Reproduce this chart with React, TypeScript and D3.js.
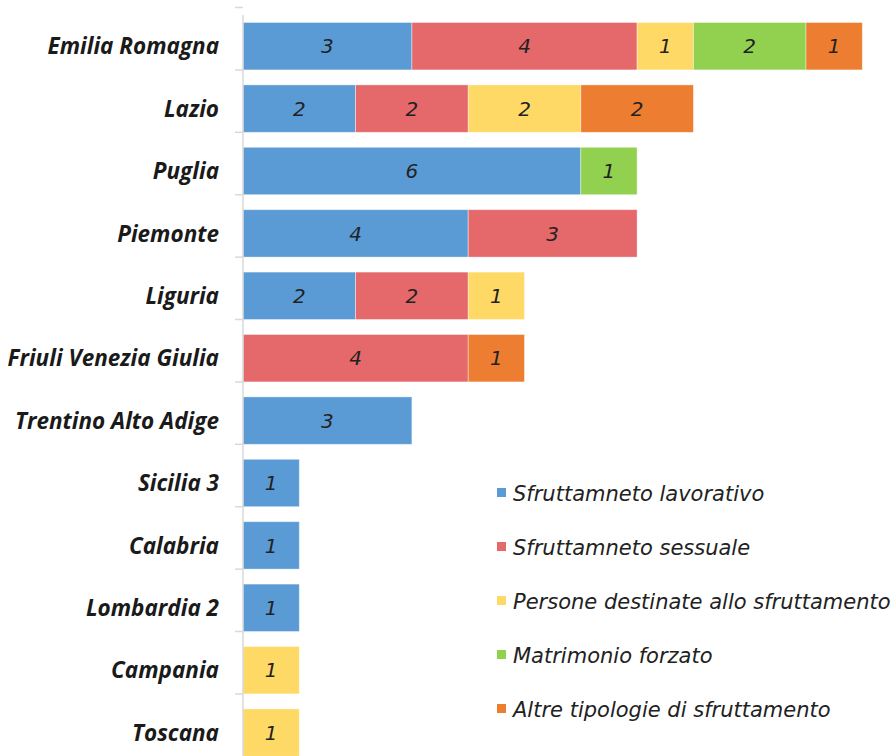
import * as d3 from 'd3';
import { useEffect, useRef } from 'react';

const regions = [
  'Emilia Romagna', 'Lazio', 'Puglia', 'Piemonte', 'Liguria', 'Friuli Venezia Giulia',
  'Trentino Alto Adige', 'Sicilia 3', 'Calabria', 'Lombardia 2', 'Campania', 'Toscana',
];
const seriesNames = [
  'Sfruttamneto lavorativo',
  'Sfruttamneto sessuale',
  'Persone destinate allo sfruttamento',
  'Matrimonio forzato',
  'Altre tipologie di sfruttamento',
];
const colors = ['#5B9BD5', '#E5686A', '#FFD966', '#92D050', '#ED7D31'];

const lavorativo = [3, 2, 6, 4, 2, 0, 3, 1, 1, 1, 0, 0];
const sessuale = [4, 2, 0, 3, 2, 4, 0, 0, 0, 0, 0, 0];
const destinate = [1, 2, 0, 0, 1, 0, 0, 0, 0, 0, 1, 1];
const matrimonio = [2, 0, 1, 0, 0, 0, 0, 0, 0, 0, 0, 0];
const altre = [1, 2, 0, 0, 0, 1, 0, 0, 0, 0, 0, 0];

export default function App() {
  const ref = useRef<SVGSVGElement>(null);

  useEffect(() => {
    const svg = d3.select(ref.current);
    svg.selectAll('*').remove();

    const rows = regions.map((r, i) => ({
      region: r,
      s0: lavorativo[i], s1: sessuale[i], s2: destinate[i], s3: matrimonio[i], s4: altre[i],
    }));
    const keys = ['s0', 's1', 's2', 's3', 's4'];
    const stacked = d3.stack<any>().keys(keys)(rows);

    const left = 243;
    const x = d3.scaleLinear().domain([0, 11]).range([left, left + 56.3 * 11]);
    const y = d3.scaleBand().domain(regions).range([15, 15 + 62.4 * 12]).paddingInner(0.24).paddingOuter(0.12);

    // bars
    const g = svg.append('g');
    stacked.forEach((layer, k) => {
      const cells = layer.filter(d => d[1] - d[0] > 0);
      g.selectAll(`.b${k}`)
        .data(cells)
        .enter()
        .append('rect')
        .attr('x', d => x(d[0]))
        .attr('y', d => y(d.data.region)!)
        .attr('width', d => x(d[1]) - x(d[0]))
        .attr('height', y.bandwidth())
        .attr('fill', colors[k])
        .attr('stroke', '#fff')
        .attr('stroke-opacity', 0.5)
        .attr('stroke-width', 0.8);

      g.selectAll(`.t${k}`)
        .data(cells)
        .enter()
        .append('text')
        .attr('x', d => (x(d[0]) + x(d[1])) / 2)
        .attr('y', d => y(d.data.region)! + y.bandwidth() / 2)
        .attr('dy', '0.36em')
        .attr('text-anchor', 'middle')
        .style('font-family', '"DejaVu Sans"')
        .style('font-style', 'italic')
        .style('font-size', '20px')
        .attr('fill', '#222')
        .text(d => d[1] - d[0]);
    });

    // category axis
    const step = y.step();
    const axis = svg.append('g');
    axis.append('line')
      .attr('x1', left).attr('x2', left)
      .attr('y1', 15).attr('y2', 756)
      .attr('stroke', '#d9d9d9').attr('stroke-width', 1.5);
    axis.selectAll('.tick')
      .data(regions)
      .enter()
      .append('line')
      .attr('x1', left - 8).attr('x2', left)
      .attr('y1', d => y(d)! - step * 0.12 * 2)
      .attr('y2', d => y(d)! - step * 0.12 * 2)
      .attr('stroke', '#d9d9d9').attr('stroke-width', 1.5);
    axis.selectAll('.lab')
      .data(regions)
      .enter()
      .append('text')
      .attr('x', 219)
      .attr('y', d => y(d)! + y.bandwidth() / 2)
      .attr('dy', '0.36em')
      .attr('text-anchor', 'end')
      .style('font-family', '"Open Sans"')
      .style('font-weight', '700')
      .style('font-style', 'italic')
      .style('font-size', '22.5px')
      .attr('fill', '#1a1a1a')
      .text(d => d);

    // legend
    const legend = svg.append('g');
    seriesNames.forEach((name, i) => {
      const ly = 493 + i * 54;
      legend.append('rect')
        .attr('x', 497).attr('y', ly - 5).attr('width', 9).attr('height', 9)
        .attr('fill', colors[i]);
      legend.append('text')
        .attr('x', 513).attr('y', ly)
        .attr('dy', '0.36em')
        .style('font-family', '"DejaVu Sans"')
        .style('font-style', 'italic')
        .style('font-size', '21px')
        .attr('fill', '#222')
        .text(name);
    });
  }, []);

  return (
    <svg ref={ref} width={896} height={756} style={{ position: 'absolute', left: 0, top: 0, background: '#fff' }} />
  );
}
